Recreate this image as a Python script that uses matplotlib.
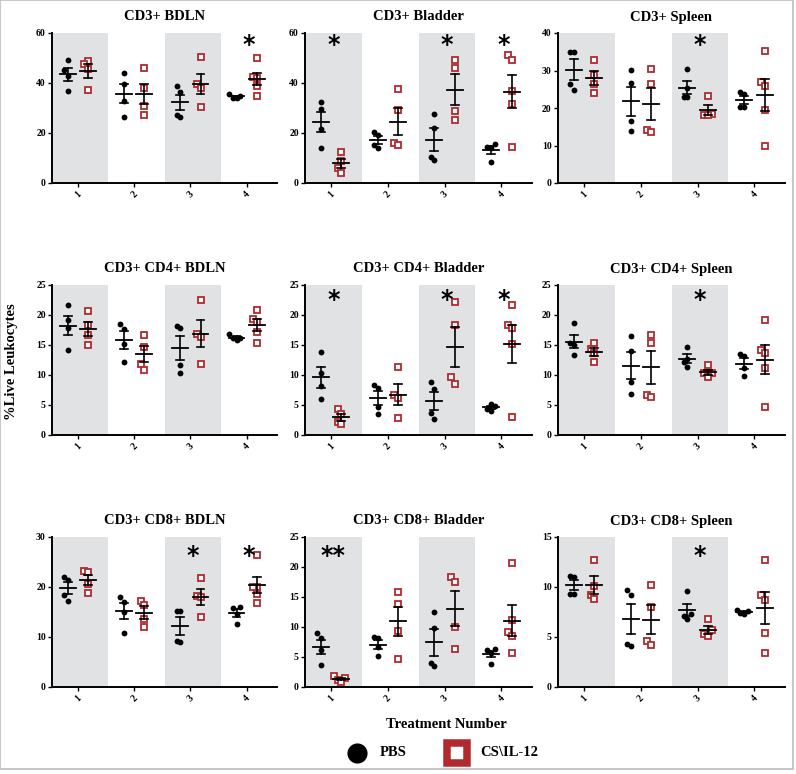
import numpy as np
import matplotlib
matplotlib.use("Agg")
import matplotlib.pyplot as plt
from matplotlib.lines import Line2D
from matplotlib.patches import Rectangle

plt.rcParams['font.family'] = ['Liberation Serif', 'DejaVu Serif']
plt.rcParams['font.weight'] = 'bold'

treatments = ['1', '2', '3', '4']

titles = ['CD3+ BDLN', 'CD3+ Bladder', 'CD3+ Spleen',
          'CD3+ CD4+ BDLN', 'CD3+ CD4+ Bladder', 'CD3+ CD4+ Spleen',
          'CD3+ CD8+ BDLN', 'CD3+ CD8+ Bladder', 'CD3+ CD8+ Spleen']
y_max = [60, 60, 40, 25, 25, 25, 30, 25, 15]
y_step = [20, 20, 10, 5, 5, 5, 10, 5, 5]

# %live leukocytes, one list per treatment number
pbs_cd3_bdln = [[49.3, 45.1, 42.9, 36.8], [44.2, 39.5, 32.7, 26.4],
                [38.7, 36.5, 27.4, 26.3], [35.5, 34.8, 34.2, 34.0]]
il12_cd3_bdln = [[48.8, 47.8, 45.5, 37.2], [46.2, 38.1, 30.7, 27.4],
                 [50.5, 39.8, 37.9, 30.3], [49.9, 42.5, 42.2, 38.8, 35.0]]
pbs_cd3_bladder = [[32.5, 29.5, 21.5, 14.2], [20.6, 19.1, 15.1, 14.2],
                   [27.5, 22.2, 10.6, 9.3], [15.5, 14.5, 14.2, 8.3]]
il12_cd3_bladder = [[12.5, 8.9, 6.2, 4.0], [37.7, 29.2, 16.2, 15.3],
                    [49.4, 46.1, 28.8, 25.2], [51.1, 49.1, 36.8, 31.5, 14.5]]
pbs_cd3_spleen = [[35.0, 35.0, 26.3, 24.7], [30.1, 26.7, 16.6, 13.8],
                  [30.5, 25.4, 22.9, 22.9], [24.3, 23.7, 20.4, 20.3]]
il12_cd3_spleen = [[32.9, 28.7, 26.3, 24.1], [30.3, 26.3, 14.2, 13.5],
                   [23.2, 18.4, 18.2, 18.2], [35.3, 27.0, 25.9, 19.5, 10.0]]

pbs_cd4_bdln = [[21.7, 19.2, 17.8, 14.2], [18.5, 17.6, 15.1, 12.1],
                [18.1, 17.8, 11.7, 10.4], [16.8, 16.2, 16.1, 15.8]]
il12_cd4_bdln = [[20.7, 18.3, 16.7, 15.0], [16.7, 14.6, 11.9, 10.8],
                 [22.5, 16.9, 16.4, 11.8], [20.8, 19.4, 18.9, 17.2, 15.3]]
pbs_cd4_bladder = [[13.9, 10.4, 8.1, 6.0], [8.4, 7.9, 4.7, 3.5],
                   [8.8, 7.7, 3.6, 2.7], [5.2, 4.9, 4.3, 4.0]]
il12_cd4_bladder = [[4.3, 3.5, 2.2, 1.8], [11.3, 6.7, 6.1, 2.9],
                    [22.1, 18.3, 9.6, 8.5], [21.6, 18.4, 17.8, 15.2, 3.0]]
pbs_cd4_spleen = [[18.6, 15.3, 15.0, 13.4], [16.5, 14.0, 8.8, 6.9],
                  [14.7, 12.7, 12.2, 11.3], [13.5, 13.2, 11.1, 9.8]]
il12_cd4_spleen = [[15.4, 14.3, 13.7, 12.2], [16.7, 15.4, 6.6, 6.4],
                   [11.6, 10.3, 10.3, 9.6], [19.2, 14.1, 13.7, 11.2, 4.7]]

pbs_cd8_bdln = [[22.0, 21.5, 18.5, 17.2], [18.0, 17.0, 15.0, 10.9],
                [15.3, 15.3, 9.3, 9.1], [16.0, 15.8, 14.7, 12.7]]
il12_cd8_bdln = [[23.2, 23.0, 20.7, 18.9], [17.3, 16.5, 13.7, 12.1],
                 [21.8, 18.3, 18.1, 14.0], [26.5, 20.1, 20.0, 18.7, 16.8]]
pbs_cd8_bladder = [[9.0, 8.1, 6.1, 3.6], [8.3, 8.2, 6.7, 5.1],
                   [12.5, 9.8, 4.0, 3.5], [6.3, 6.1, 5.6, 3.9]]
il12_cd8_bladder = [[1.8, 1.5, 1.1, 0.9], [15.8, 13.8, 9.4, 4.7],
                    [18.4, 17.5, 10.0, 6.4], [20.7, 11.2, 9.1, 8.5, 5.7]]
pbs_cd8_spleen = [[11.1, 11.0, 9.3, 9.3], [9.7, 9.2, 4.3, 4.1],
                  [9.6, 7.3, 7.1, 6.8], [7.7, 7.6, 7.4, 7.3]]
il12_cd8_spleen = [[12.7, 10.1, 9.2, 8.8], [10.2, 8.0, 4.6, 4.2],
                   [6.8, 5.7, 5.3, 5.1], [12.7, 9.2, 8.7, 5.4, 3.4]]

stars_cd3_bdln = ['', '', '', '*']
stars_cd3_bladder = ['*', '', '*', '*']
stars_cd3_spleen = ['', '', '*', '']
stars_cd4_bdln = ['', '', '', '']
stars_cd4_bladder = ['*', '', '*', '*']
stars_cd4_spleen = ['', '', '*', '']
stars_cd8_bdln = ['', '', '*', '*']
stars_cd8_bladder = ['**', '', '', '']
stars_cd8_spleen = ['', '', '*', '']

pbs_all = [pbs_cd3_bdln, pbs_cd3_bladder, pbs_cd3_spleen,
           pbs_cd4_bdln, pbs_cd4_bladder, pbs_cd4_spleen,
           pbs_cd8_bdln, pbs_cd8_bladder, pbs_cd8_spleen]
il12_all = [il12_cd3_bdln, il12_cd3_bladder, il12_cd3_spleen,
            il12_cd4_bdln, il12_cd4_bladder, il12_cd4_spleen,
            il12_cd8_bdln, il12_cd8_bladder, il12_cd8_spleen]
stars_all = [stars_cd3_bdln, stars_cd3_bladder, stars_cd3_spleen,
             stars_cd4_bdln, stars_cd4_bladder, stars_cd4_spleen,
             stars_cd8_bdln, stars_cd8_bladder, stars_cd8_spleen]

RED = '#b02a2e'
SHADE = '#e1e2e3'
W, H = 796, 774


def swarm(values, ymax, step=0.065):
    # small sideways offsets so close points do not sit on top of each other
    vals = np.asarray(values, float)
    thr = 0.045 * ymax
    order = np.argsort(vals)
    offs = np.zeros(len(vals))
    placed = []
    for i in order:
        near = [offs[j] for j in placed if abs(vals[j] - vals[i]) < thr]
        for k in [0, -1, 1, -2, 2, -3, 3]:
            if all(abs(k * step - o) > 1e-9 for o in near):
                offs[i] = k * step
                break
        placed.append(i)
    return offs


def mean_sem(ax, x, values):
    v = np.asarray(values, float)
    m = v.mean()
    s = v.std(ddof=1) / np.sqrt(len(v))
    ax.plot([x - 0.14, x + 0.14], [m, m], color='black', lw=1.3, zorder=4)
    ax.plot([x, x], [m - s, m + s], color='black', lw=1.2, zorder=4)
    ax.plot([x - 0.07, x + 0.07], [m + s, m + s], color='black', lw=1.2, zorder=4)
    ax.plot([x - 0.07, x + 0.07], [m - s, m - s], color='black', lw=1.2, zorder=4)


fig = plt.figure(figsize=(W / 100, H / 100), dpi=100)

cols_x = [(52, 277), (305, 532), (558, 785)]
rows_y = [(33, 183), (285, 435), (537, 687)]
star_y = [0.92, 0.9, 0.875]

for p in range(9):
    r, c = divmod(p, 3)
    x0, x1 = cols_x[c]
    y0, y1 = rows_y[r]
    ax = fig.add_axes([x0 / W, 1 - y1 / H, (x1 - x0) / W, (y1 - y0) / H])
    ymax = y_max[p]
    for g in range(4):
        if g % 2 == 0:
            ax.axvspan(g + 0.5, g + 1.5, color=SHADE, lw=0, zorder=0)
        xc = g + 1
        pv = pbs_all[p][g]
        iv = il12_all[p][g]
        xp = xc - 0.22
        xi = xc + 0.14
        ax.plot(xp + swarm(pv, ymax), pv, 'o', color='black', ms=4.2,
                mew=0, zorder=3, clip_on=False)
        ax.plot(xi + swarm(iv, ymax), iv, 's', mfc='white', mec=RED,
                ms=4.0, mew=1.3, zorder=3, clip_on=False)
        mean_sem(ax, xp, pv)
        mean_sem(ax, xi, iv)
        if stars_all[p][g]:
            ax.text(xc, ymax * star_y[r], stars_all[p][g], ha='center',
                    va='center', fontsize=17, fontweight='bold',
                    family=['DejaVu Sans'])
    ax.set_xlim(0.5, 4.5)
    ax.set_ylim(0, ymax)
    ax.set_yticks(np.arange(0, ymax + 0.1, y_step[p]))
    ax.set_yticklabels([str(int(t)) for t in np.arange(0, ymax + 0.1, y_step[p])])
    ax.set_xticks(np.arange(1, 5) - 0.04)
    ax.set_xticklabels(treatments, rotation=45, ha='center')
    for side in ['top', 'right']:
        ax.spines[side].set_visible(False)
    for side in ['left', 'bottom']:
        ax.spines[side].set_linewidth(1.4)
    ax.tick_params(axis='both', labelsize=7, length=3, width=1, pad=1.5)
    ax.set_title(titles[p], fontsize=10.5, fontweight='bold', pad=9)

fig.text(12 / W, 1 - 362 / H, '%Live Leukocytes', rotation=90, ha='center',
         va='center', fontsize=10.5, fontweight='bold')
fig.text(446 / W, 1 - 725 / H, 'Treatment Number', ha='center', va='center',
         fontsize=10.5, fontweight='bold')

# legend drawn in figure coordinates
fig.add_artist(Line2D([357 / W], [1 - 753 / H], transform=fig.transFigure,
                      marker='o', ms=14.5, color='black', mew=0, ls='none'))
fig.text(380 / W, 1 - 753 / H, 'PBS', ha='left', va='center', fontsize=10.5,
         fontweight='bold')
fig.add_artist(Line2D([457 / W], [1 - 753 / H], transform=fig.transFigure,
                      marker='s', ms=14, mfc='white', mec=RED, mew=5.4,
                      ls='none'))
fig.text(480 / W, 1 - 753 / H, 'CS\\IL-12', ha='left', va='center',
         fontsize=10.5, fontweight='bold')

fig.add_artist(Rectangle((0.0, 5 / H), 1 - 3.5 / W, 1 - 5 / H,
                         transform=fig.transFigure, fill=False,
                         edgecolor='#bdbdbd', lw=1.2))

fig.savefig('out.png', dpi=100)
